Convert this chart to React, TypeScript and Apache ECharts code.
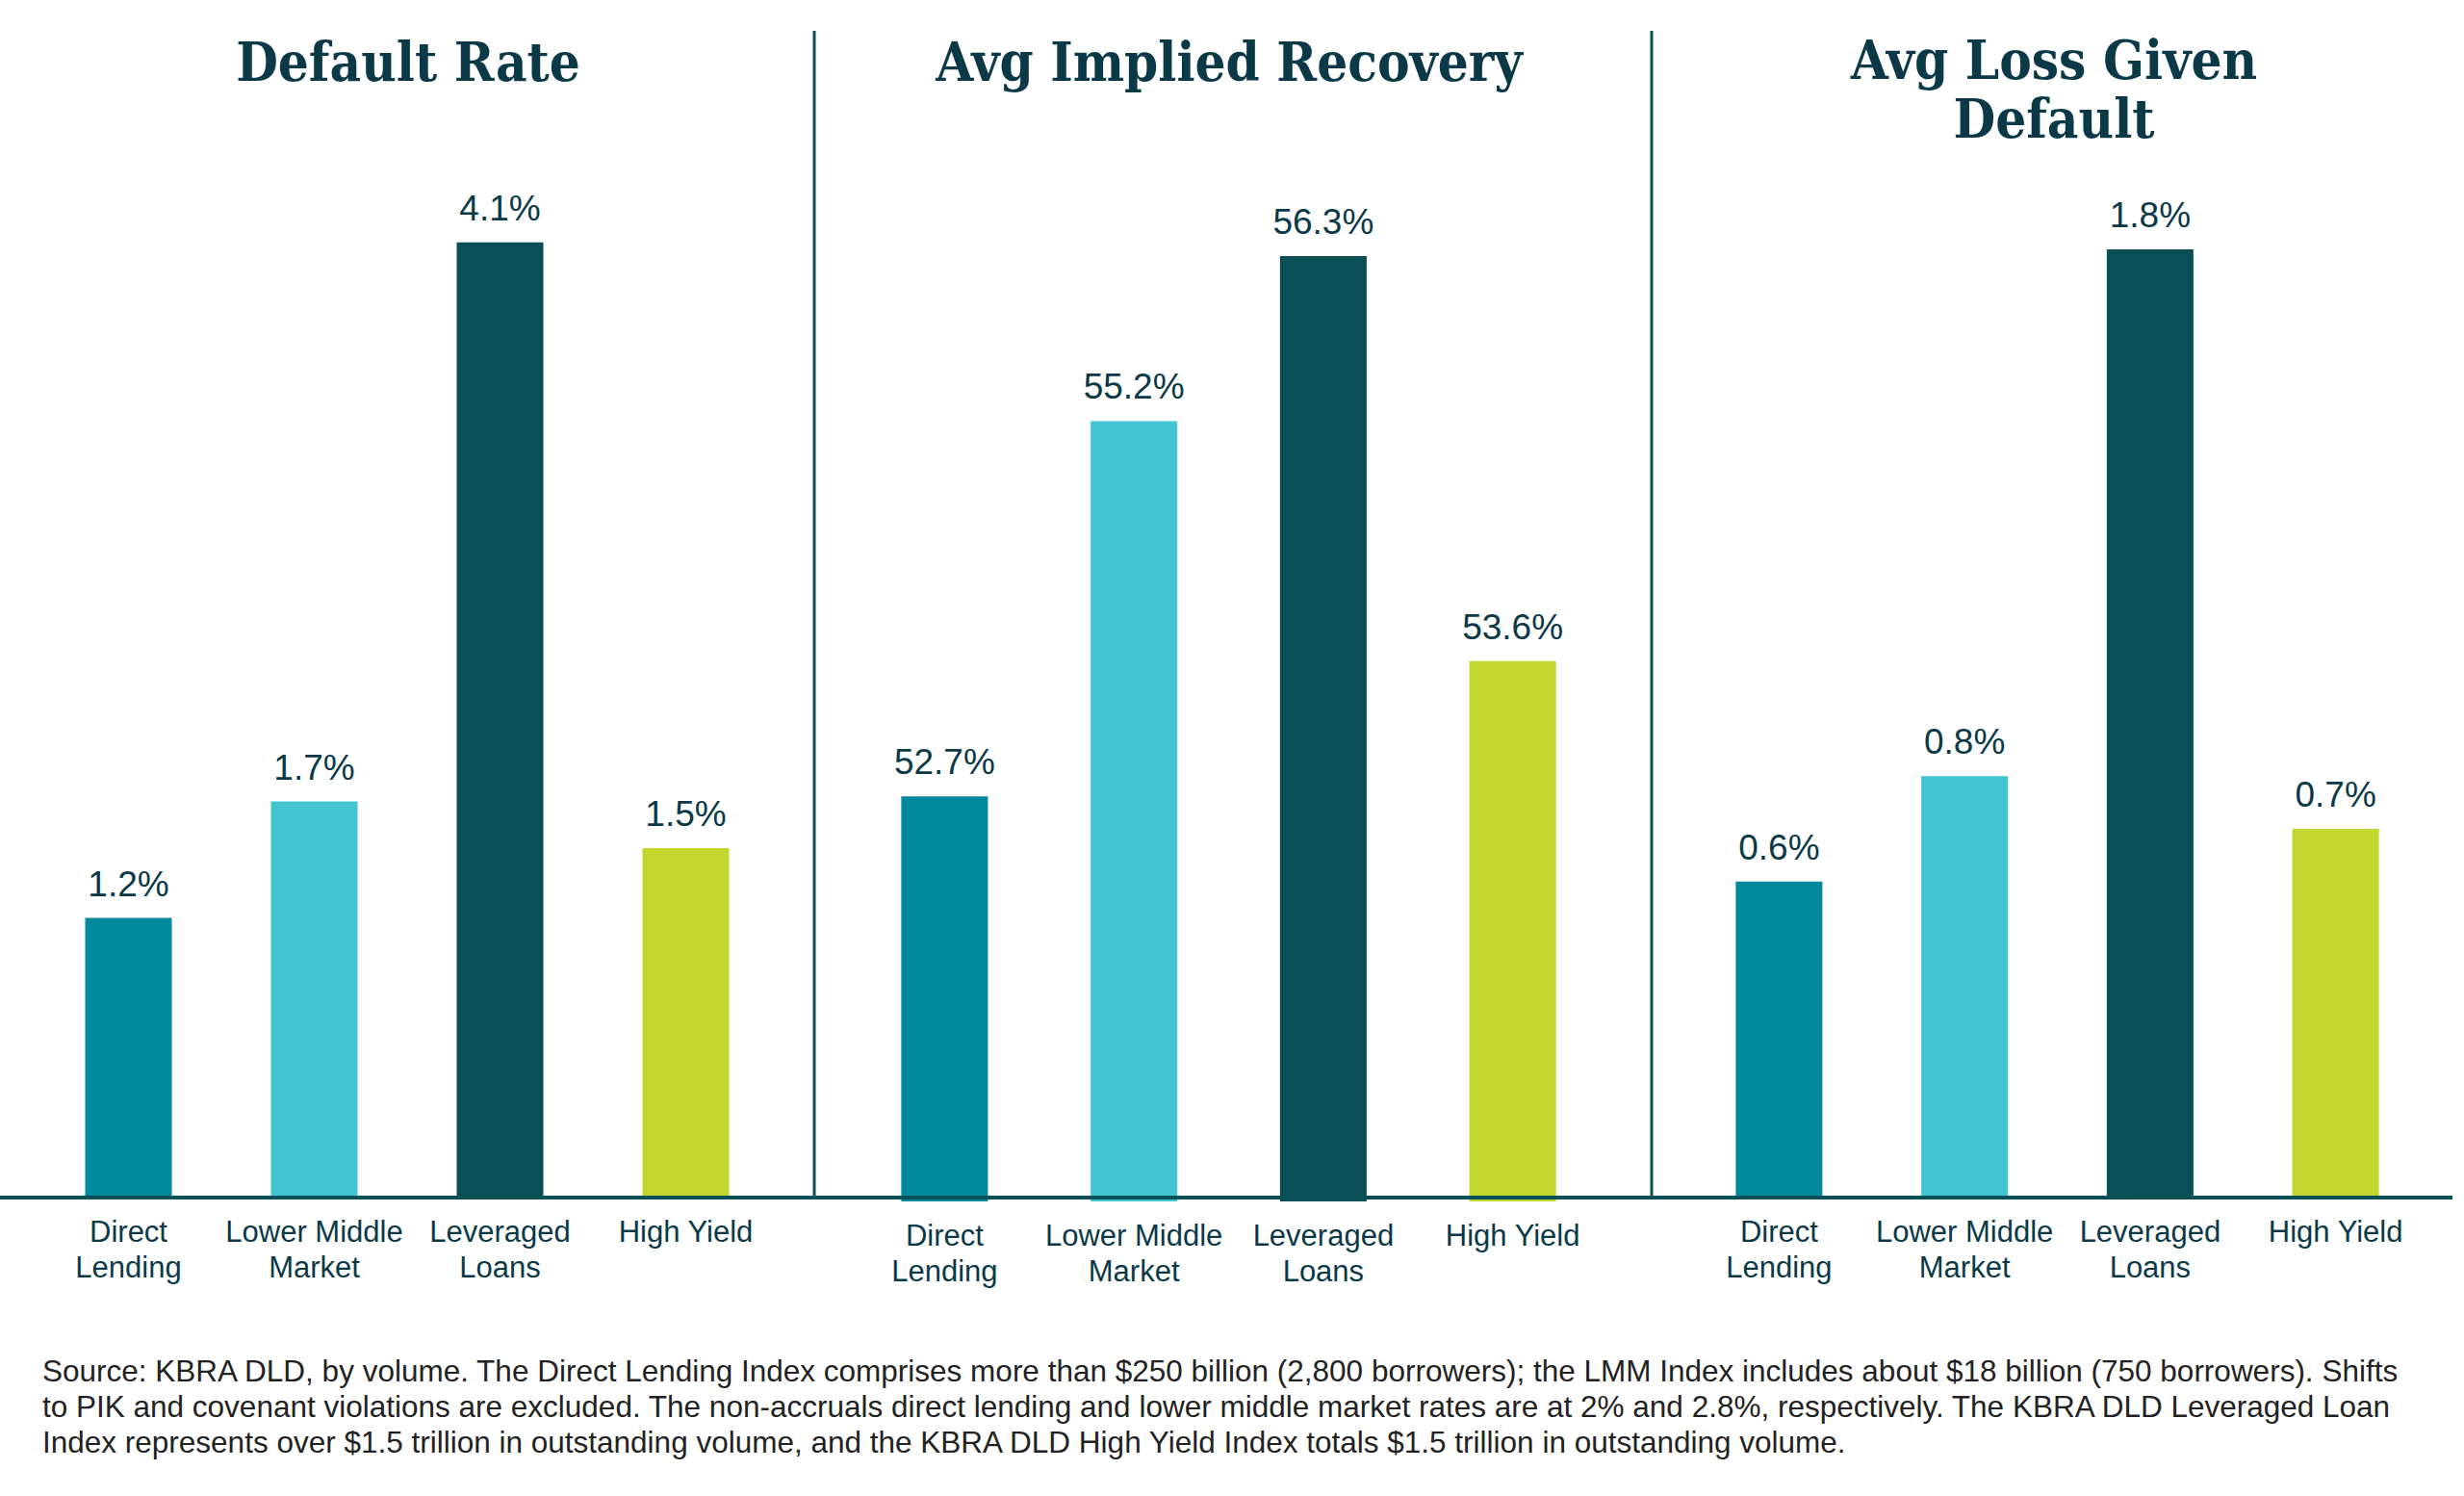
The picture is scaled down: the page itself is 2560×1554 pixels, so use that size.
import React, { useEffect, useRef } from "react";
import * as echarts from "echarts";

const categories = ["Direct\nLending", "Lower Middle\nMarket", "Leveraged\nLoans", "High Yield"];
const defaultRate = [1.2, 1.7, 4.1, 1.5];
const impliedRecovery = [52.7, 55.2, 56.3, 53.6];
const lossGivenDefault = [0.6, 0.8, 1.8, 0.7];
const barColors = ["#00899c", "#41c5d1", "#0a4f56", "#c3d62d"];
const panelTitles = ["Default Rate", "Avg Implied Recovery", "Avg Loss Given\nDefault"];
const footnoteLines = [
  "Source: KBRA DLD, by volume. The Direct Lending Index comprises more than $250 billion (2,800 borrowers); the LMM Index includes about $18 billion (750 borrowers). Shifts",
  "to PIK and covenant violations are excluded. The non-accruals direct lending and lower middle market rates are at 2% and 2.8%, respectively. The KBRA DLD Leveraged Loan",
  "Index represents over $1.5 trillion in outstanding volume, and the KBRA DLD High Yield Index totals $1.5 trillion in outstanding volume.",
];

const NAVY = "#0b3947";
const TEAL_LINE = "#0b4f57";
const SANS = '"Liberation Sans", Arial, sans-serif';
const SERIF = '"DejaVu Serif Condensed", "Liberation Serif", serif';

const panels = [
  { data: defaultRate, min: 0, max: 5, grid: { left: 37, width: 772, top: 34, bottom: 310 }, titleX: 424, titleY: 64 },
  { data: impliedRecovery, min: 50, max: 57.75, grid: { left: 883, width: 787, top: 40, bottom: 306 }, titleX: 1277, titleY: 64 },
  { data: lossGivenDefault, min: 0, max: 2.2, grid: { left: 1752, width: 771, top: 40, bottom: 310 }, titleX: 2134, titleY: 92 },
];

export default function App() {
  const ref = useRef<HTMLDivElement>(null);
  useEffect(() => {
    if (!ref.current) return;
    const chart = echarts.init(ref.current, null, { renderer: "svg" });
    const option: any = {
      animation: false,
      backgroundColor: "#ffffff",
      grid: panels.map((p) => ({ ...p.grid, containLabel: false })),
      xAxis: panels.map((_, i) => ({
        type: "category",
        gridIndex: i,
        data: categories,
        axisLine: { show: false },
        axisTick: { show: false },
        axisLabel: {
          color: NAVY,
          fontFamily: SANS,
          fontSize: 31,
          lineHeight: 37,
          margin: 17,
          interval: 0,
        },
      })),
      yAxis: panels.map((p, i) => ({
        type: "value",
        gridIndex: i,
        min: p.min,
        max: p.max,
        show: false,
        splitLine: { show: false },
      })),
      series: panels.map((p, i) => ({
        type: "bar",
        xAxisIndex: i,
        yAxisIndex: i,
        barWidth: 90,
        clip: true,
        data: p.data.map((v, j) => ({ value: v, itemStyle: { color: barColors[j] } })),
        label: {
          show: true,
          position: "top",
          distance: 17,
          color: NAVY,
          fontFamily: SANS,
          fontSize: 37,
          formatter: (d: any) => `${Number(d.value).toFixed(1)}%`,
        },
      })),
      graphic: [
        ...panels.map((p, i) => ({
          type: "text",
          x: p.titleX,
          y: p.titleY,
          style: {
            text: panelTitles[i],
            fill: NAVY,
            font: `bold 56px ${SERIF}`,
            textAlign: "center",
            textVerticalAlign: "middle",
            lineHeight: 61,
          },
        })),
        {
          type: "line",
          shape: { x1: 846, y1: 32, x2: 846, y2: 1244 },
          style: { stroke: TEAL_LINE, lineWidth: 3 },
          z: 100,
        },
        {
          type: "line",
          shape: { x1: 1716, y1: 32, x2: 1716, y2: 1244 },
          style: { stroke: TEAL_LINE, lineWidth: 3 },
          z: 100,
        },
        {
          type: "line",
          shape: { x1: 0, y1: 1244, x2: 2548, y2: 1244 },
          style: { stroke: TEAL_LINE, lineWidth: 4 },
          z: 100,
        },
        {
          type: "text",
          x: 44,
          y: 1461,
          style: {
            text: footnoteLines.join("\n"),
            fill: "#222222",
            font: `31.5px ${SANS}`,
            lineHeight: 37,
            textAlign: "left",
            textVerticalAlign: "middle",
          },
        },
      ],
    };
    chart.setOption(option);
    return () => chart.dispose();
  }, []);
  return (
    <div
      ref={ref}
      style={{ position: "fixed", left: 0, top: 0, width: "2560px", height: "1554px", background: "#fff" }}
    />
  );
}
